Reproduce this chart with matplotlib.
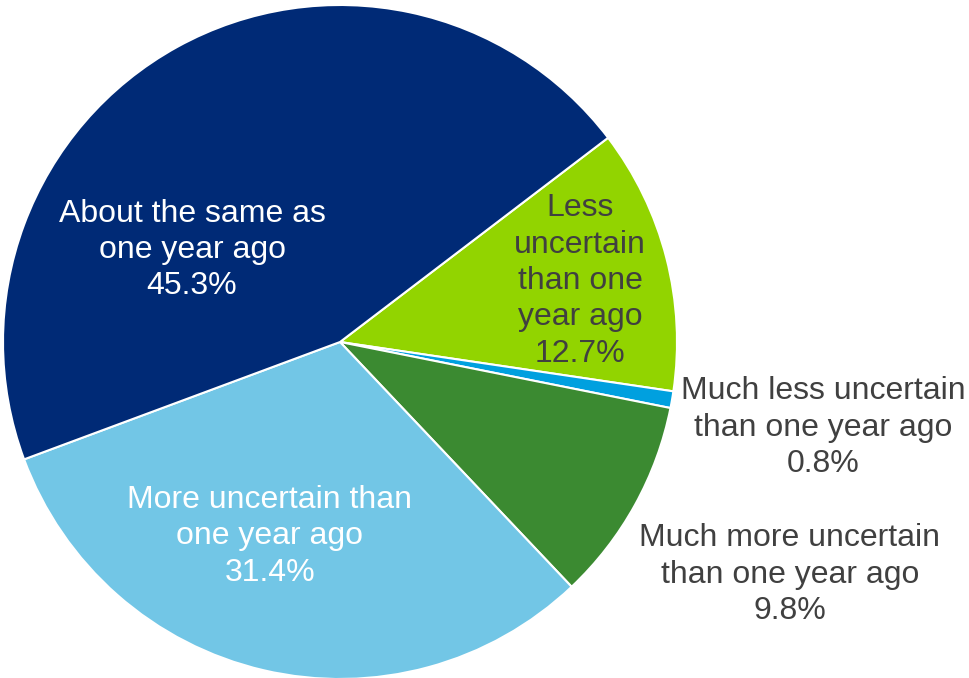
import matplotlib
matplotlib.use('Agg')
import matplotlib.pyplot as plt

plt.rcParams['font.family'] = ['Liberation Sans', 'DejaVu Sans']

# Datos del gráfico (orden en sentido horario desde la parte superior derecha)
categories = [
    'Less\nuncertain\nthan one\nyear ago',
    'Much less uncertain\nthan one year ago',
    'Much more uncertain\nthan one year ago',
    'More uncertain than\none year ago',
    'About the same as\none year ago',
]
shares = [12.7, 0.8, 9.8, 31.4, 45.3]
colors = ['#92D400', '#00A0DF', '#3B8A31', '#72C6E6', '#002A76']
text_colors = ['#404040', '#404040', '#404040', 'white', 'white']
# posiciones de las etiquetas (coordenadas del pastel, radio = 1)
label_pos = [(0.712, 0.181), (1.433, -0.255), (1.335, -0.691),
             (-0.208, -0.576), (-0.439, 0.273)]

fig = plt.figure(figsize=(9.7, 6.78), dpi=100)
ax = fig.add_axes([3 / 970, -1 / 678, 674 / 970, 674 / 678])

ax.pie(shares, colors=colors, startangle=37.3, counterclock=False,
       radius=1, wedgeprops=dict(edgecolor='white', linewidth=1.5))

for cat, val, pos, tc in zip(categories, shares, label_pos, text_colors):
    ax.text(pos[0], pos[1], f'{cat}\n{val:.1f}%', ha='center', va='center',
            multialignment='center', fontsize=23, color=tc, linespacing=1.28,
            clip_on=False)

ax.set_xlim(-1, 1)
ax.set_ylim(-1, 1)
ax.set_aspect('equal')
ax.axis('off')

fig.savefig('out.png', dpi=100)
